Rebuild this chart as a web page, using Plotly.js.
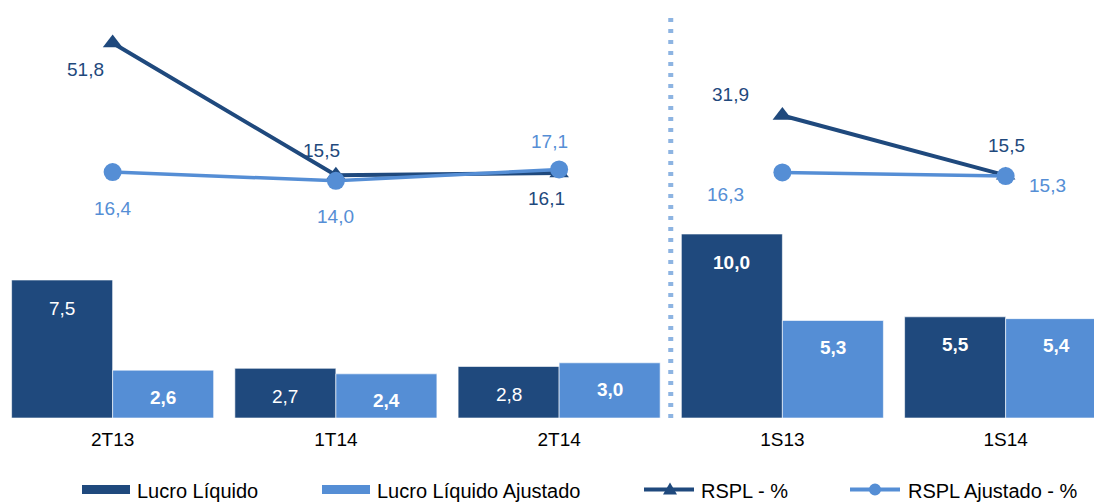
<!DOCTYPE html>
<html>
<head>
<meta charset="utf-8">
<script src="https://cdn.plot.ly/plotly-3.0.1.min.js"></script>
<style>html,body{margin:0;padding:0;background:#fff;overflow:hidden}#chart{width:1094px;height:504px}</style>
</head>
<body>
<div id="chart"></div>
<script>
// ---- data ----
const categories = ['2T13', '1T14', '2T14', '1S13', '1S14'];
const periodGroup = ['T', 'T', 'T', 'S', 'S'];
const lucroLiquido = [7.5, 2.7, 2.8, 10.0, 5.5];
const lucroLiquidoAjustado = [2.6, 2.4, 3.0, 5.3, 5.4];
const rspl = [51.8, 15.5, 16.1, 31.9, 15.5];
const rsplAjustado = [16.4, 14.0, 17.1, 16.3, 15.3];
const seriesNames = ['Lucro Líquido', 'Lucro Líquido Ajustado', 'RSPL - %', 'RSPL Ajustado - %'];

// ---- styles ----
const DARK = '#1F497D';
const LIGHT = '#558ED5';
const SEP = '#8DB4E2';
const FONT = 'Liberation Sans, Arial, sans-serif';
const FS = 19;
const LEGFS = 20;
const W = 1094, H = 504;
const M = {l: 1, r: 0, t: 0, b: 86};
const PW = W - M.l - M.r, PH = H - M.t - M.b;
const catStep = 223.25;
// bold flags for bar labels (style)
const boldDark = [false, false, false, true, true];
const boldLight = [true, true, true, true, true];
// label offsets for line points (px: dx, dy up)
const offRspl = [[-27, -26], [-14, 25], [-13, -25], [-52, 21], [1, 30]];
const offAdj = [[0, -36], [0, -36], [-10, 28], [-57, -22], [42, -9]];

const fmt = v => v.toFixed(1).replace('.', ',');

// split line across period groups with a null break
function splitSeries(vals) {
  const xs = [], ys = [];
  for (let i = 0; i < categories.length; i++) {
    if (i > 0 && periodGroup[i] !== periodGroup[i - 1]) { xs.push(categories[i - 1]); ys.push(null); }
    xs.push(categories[i]); ys.push(vals[i]);
  }
  return {xs, ys};
}
const sR = splitSeries(rspl), sA = splitSeries(rsplAjustado);

const traces = [
  {type: 'bar', name: seriesNames[0], x: categories, y: lucroLiquido, marker: {color: DARK, line: {color: 'rgba(255,255,255,0.6)', width: 1}}, hoverinfo: 'skip'},
  {type: 'bar', name: seriesNames[1], x: categories, y: lucroLiquidoAjustado, marker: {color: LIGHT, line: {color: 'rgba(255,255,255,0.6)', width: 1}}, hoverinfo: 'skip'},
  {type: 'scatter', mode: 'lines+markers', name: seriesNames[2], x: sR.xs, y: sR.ys, yaxis: 'y2', connectgaps: false,
   line: {color: DARK, width: 4}, marker: {symbol: 'triangle-up', size: 17, color: DARK}, hoverinfo: 'skip'},
  {type: 'scatter', mode: 'lines+markers', name: seriesNames[3], x: sA.xs, y: sA.ys, yaxis: 'y2', connectgaps: false,
   line: {color: LIGHT, width: 3.5}, marker: {symbol: 'circle', size: 18, color: LIGHT}, hoverinfo: 'skip'}
];

const annotations = [];
categories.forEach((c, i) => {
  annotations.push({x: c, y: lucroLiquido[i], xref: 'x', yref: 'y', text: boldDark[i] ? '<b>' + fmt(lucroLiquido[i]) + '</b>' : fmt(lucroLiquido[i]),
    showarrow: false, xshift: -catStep * 0.905 / 4, yshift: -28, font: {family: FONT, size: FS, color: '#fff'}});
  annotations.push({x: c, y: lucroLiquidoAjustado[i], xref: 'x', yref: 'y', text: boldLight[i] ? '<b>' + fmt(lucroLiquidoAjustado[i]) + '</b>' : fmt(lucroLiquidoAjustado[i]),
    showarrow: false, xshift: catStep * 0.905 / 4, yshift: -27, font: {family: FONT, size: FS, color: '#fff'}});
  annotations.push({x: c, y: rspl[i], xref: 'x', yref: 'y2', text: fmt(rspl[i]), showarrow: false,
    xshift: offRspl[i][0], yshift: offRspl[i][1], font: {family: FONT, size: FS, color: DARK}});
  annotations.push({x: c, y: rsplAjustado[i], xref: 'x', yref: 'y2', text: fmt(rsplAjustado[i]), showarrow: false,
    xshift: offAdj[i][0], yshift: offAdj[i][1], font: {family: FONT, size: FS, color: LIGHT}});
});

// custom legend (pixel -> paper)
const px = x => (x - M.l) / PW;
const py = y => (M.t + PH - y) / PH;
const legY = 489.5;
const shapes = [
  // separator between quarter and semester periods
  {type: 'line', xref: 'x', yref: 'paper', x0: 2.5, x1: 2.5, y0: 0, y1: py(18), line: {color: SEP, width: 5, dash: '4px,7px'}},
  {type: 'rect', xref: 'paper', yref: 'paper', x0: px(82), x1: px(130), y0: py(legY - 4.5), y1: py(legY + 4.5), fillcolor: DARK, line: {width: 0}},
  {type: 'rect', xref: 'paper', yref: 'paper', x0: px(322), x1: px(370), y0: py(legY - 4.5), y1: py(legY + 4.5), fillcolor: LIGHT, line: {width: 0}},
  {type: 'line', xref: 'paper', yref: 'paper', x0: px(644), x1: px(694), y0: py(legY), y1: py(legY), line: {color: DARK, width: 4}},
  {type: 'path', xref: 'paper', yref: 'paper', path: `M ${px(663)} ${py(legY + 5)} L ${px(677)} ${py(legY + 5)} L ${px(670)} ${py(legY - 7)} Z`, fillcolor: DARK, line: {width: 0}},
  {type: 'line', xref: 'paper', yref: 'paper', x0: px(850), x1: px(900), y0: py(legY), y1: py(legY), line: {color: LIGHT, width: 4}},
  {type: 'circle', xref: 'paper', yref: 'paper', x0: px(869), x1: px(881), y0: py(legY + 6), y1: py(legY - 6), fillcolor: LIGHT, line: {width: 0}}
];
const legX = [135, 375, 699, 906];
seriesNames.forEach((n, i) => {
  annotations.push({xref: 'paper', yref: 'paper', x: px(legX[i]), y: py(legY + 1), xanchor: 'left', yanchor: 'middle', text: n, showarrow: false,
    font: {family: FONT, size: LEGFS, color: '#000'}});
});

const layout = {
  width: W, height: H, margin: M,
  paper_bgcolor: '#fff', plot_bgcolor: '#fff',
  showlegend: false,
  barmode: 'group', bargap: 0.095, bargroupgap: 0,
  xaxis: {type: 'category', categoryorder: 'array', categoryarray: categories, range: [-0.5, -0.5 + PW / catStep],
    showgrid: false, zeroline: false, showline: false, ticks: '', tickfont: {family: FONT, size: FS, color: '#000'}, ticklabelstandoff: 8},
  yaxis: {range: [0, PH / 18.4], visible: false, showgrid: false, zeroline: false},
  yaxis2: {overlaying: 'y', side: 'right', range: [-51.1, -51.1 + PH / 3.644], visible: false, showgrid: false, zeroline: false},
  annotations, shapes
};

Plotly.newPlot('chart', traces, layout, {staticPlot: true, displayModeBar: false});
</script>
</body>
</html>
